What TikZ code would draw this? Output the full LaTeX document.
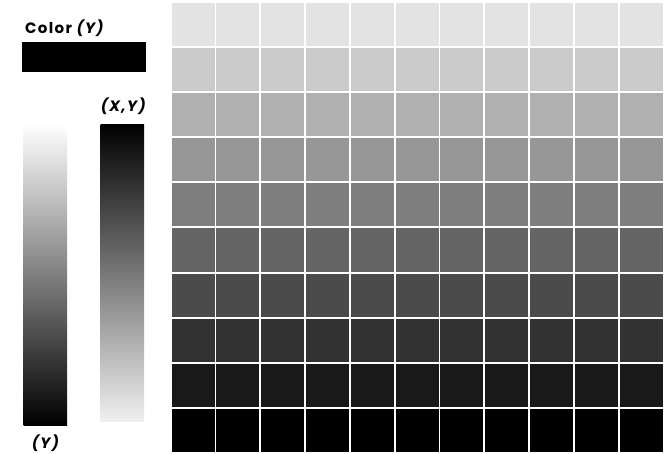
\documentclass[tikz,border=0pt]{standalone}
\usepackage{fontspec}
\setmainfont{Poppins}[LetterSpace=9]
\usetikzlibrary{positioning}

\begin{document}
\begin{tikzpicture}[
  x=1pt, y=-1pt,
  font=\fontsize{15}{17}\selectfont\bfseries,
  cell/.style={
    minimum width=43pt,
    minimum height=43pt,
    inner sep=0pt},
  bar/.style={
    minimum width=43.5pt,
    inner sep=0pt},
  tag/.style={
    inner sep=0pt,
    anchor=base west}
]
\useasboundingbox (0,0) rectangle (666,454);

% legend
\node[tag] (title) at (25,33.3) {Color \textit{(Y)}};
\node[fill=black, minimum width=124pt, minimum height=30pt,
  inner sep=0pt] (swatch) at (84.2,56.7) {};

\node[bar, minimum height=301pt,
  top color=white, bottom color=black] (ybar) at (45.3,274.5) {};
\node[bar, minimum height=297.5pt,
  top color=black, bottom color=white!94!black] (xybar) at (122.3,272.8) {};

\node[tag] (xylabel) at (100.7,112) {\textit{(X,Y)}};
\node[tag] (ylabel) at (31.7,448) {\textit{(Y)}};

% grey steps
\foreach \r in {0,...,9}{
  \pgfmathsetmacro\lev{max(0,89-9.9*\r)}
  \foreach \c in {0,...,10}
    \node[cell, fill=white!\lev!black] (c\r-\c)
      at ({193+44.8*\c},{25+45*\r}) {};
}
\end{tikzpicture}
\end{document}
